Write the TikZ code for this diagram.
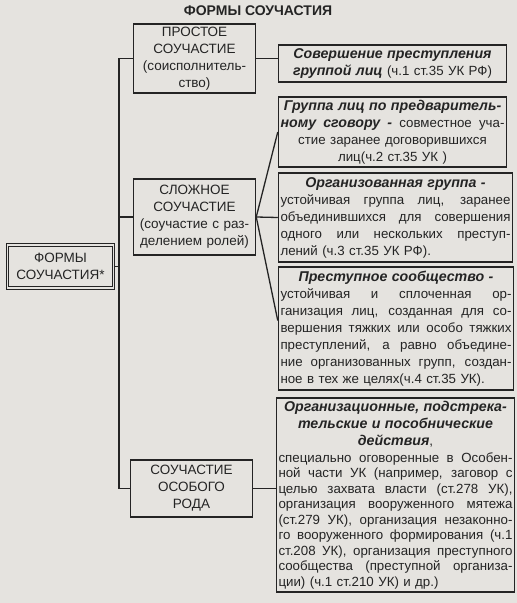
\documentclass[tikz,border=0pt]{standalone}
\usepackage{fontspec}
\setmainfont{Liberation Sans}

\definecolor{paper}{RGB}{229,227,223}
\definecolor{ink}{RGB}{36,36,36}

\newcommand{\hd}[1]{{\fontsize{14.2}{17}\selectfont\bfseries\itshape #1}}
\newcommand{\js}[1]{\leavevmode\hbox to \hsize{\spaceskip=.26em plus 1fil minus .08em\relax #1}}
\newcommand{\jl}[1]{\leavevmode\hbox to \hsize{#1\hfil}}

\begin{document}
\begin{tikzpicture}[x=1pt,y=-1pt,
  box/.style={draw=ink,line width=1.5pt,rectangle,inner xsep=2pt,inner ysep=1pt,
    align=center,text=ink,font=\fontsize{13.3}{17}\selectfont},
  kind/.style={box,font=\fontsize{13.5}{17}\selectfont},
  link/.style={draw=ink,line width=1.3pt}]
%\draw [help lines] (0,0) grid (517,603);
\fill[paper] (0,0) rectangle (517,603);
\useasboundingbox (0,0) rectangle (517,603);

\node[text=ink] (T) at (258,11) {\fontsize{14}{16}\selectfont\bfseries ФОРМЫ СОУЧАСТИЯ};

\node[kind,double=paper,double distance=1.8pt,line width=0.9pt,text width=102,minimum height=43] (P0) at (60.5,266.5) {ФОРМЫ\\СОУЧАСТИЯ*};

% forms of complicity
\node[kind,text width=118,minimum height=69] (P1) at (194.5,58.5) {ПРОСТОЕ\\СОУЧАСТИЕ\\(соисполнитель-\\ство)};
\node[kind,text width=118,minimum height=76] (P4) at (194.5,217) {СЛОЖНОЕ\\СОУЧАСТИЕ\\(соучастие с раз-\\делением ролей)};
\node[kind,text width=118,minimum height=57] (P7) at (191.5,488.5) {СОУЧАСТИЕ\\ОСОБОГО\\РОДА};

% definitions
\node[box,text width=224,minimum height=37] (P2) at (392.5,63.5) {\hd{Совершение преступления}\\\hd{группой лиц} (ч.1 ст.35 УК РФ)};

\node[box,text width=224,minimum height=70] (P3) at (392.5,132) {\hd{Группа лиц по предваритель-}\\\js{\hd{ному сговору -} совместное уча-}\\стие заранее договорившихся\\лиц(ч.2 ст.35 УК )};

\node[box,text width=230,minimum height=89] (P5) at (395.5,217.5) {\hd{Организованная группа -}\\\js{устойчивая группа лиц, заранее}\\\js{объединившихся для совершения}\\\js{одного или нескольких преступ-}\\\jl{лений (ч.3 ст.35 УК РФ).}};

\node[box,text width=231,minimum height=123] (P6) at (396,328.5) {\hd{Преступное сообщество -}\\\js{устойчивая и сплоченная ор-}\\\js{ганизация лиц, созданная для со-}\\\js{вершения тяжких или особо тяжких}\\\js{преступлений, а равно объедине-}\\\js{ние организованных групп, создан-}\\\jl{ное в тех же целях(ч.4 ст.35 УК).}};

\node[box,font=\fontsize{13.3}{15.5}\selectfont,text width=234,minimum height=194] (P8) at (395.5,495) {\hd{Организационные, подстрека-}\\[1.5pt]\hd{тельские и пособнические}\\[1.5pt]\hd{действия},\\[1pt]\js{специально оговоренные в Особен-}\\\js{ной части УК (например, заговор с}\\\js{целью захвата власти (ст.278 УК),}\\\js{организация вооруженного мятежа}\\\js{(ст.279 УК), организация незаконно-}\\\js{го вооруженного формирования (ч.1}\\\js{ст.208 УК), организация преступного}\\\js{сообщества (преступной организа-}\\\jl{ции) (ч.1 ст.210 УК) и др.)}};

% trunk
\coordinate (V1) at (119,58.5);
\coordinate (V2) at (119,488.5);
\draw[link] (P1.west) -- (V1) -- (V2) -- (P7.west);

\path[link]
% forms to trunk
(P0.east) edge (P0.east -| V1)
(P4.west) edge (P4.west -| V1)

% simple to group of persons
(P1.east) edge (P1.east -| P2.west)

% complex to its three kinds
(P4.east) edge (P3.west)
(P4.east) edge (P5.west)
(P4.east) edge ([yshift=8pt]P6.west)

% special kind
(P7.east) edge (P7.east -| P8.west);

\end{tikzpicture}
\end{document}
